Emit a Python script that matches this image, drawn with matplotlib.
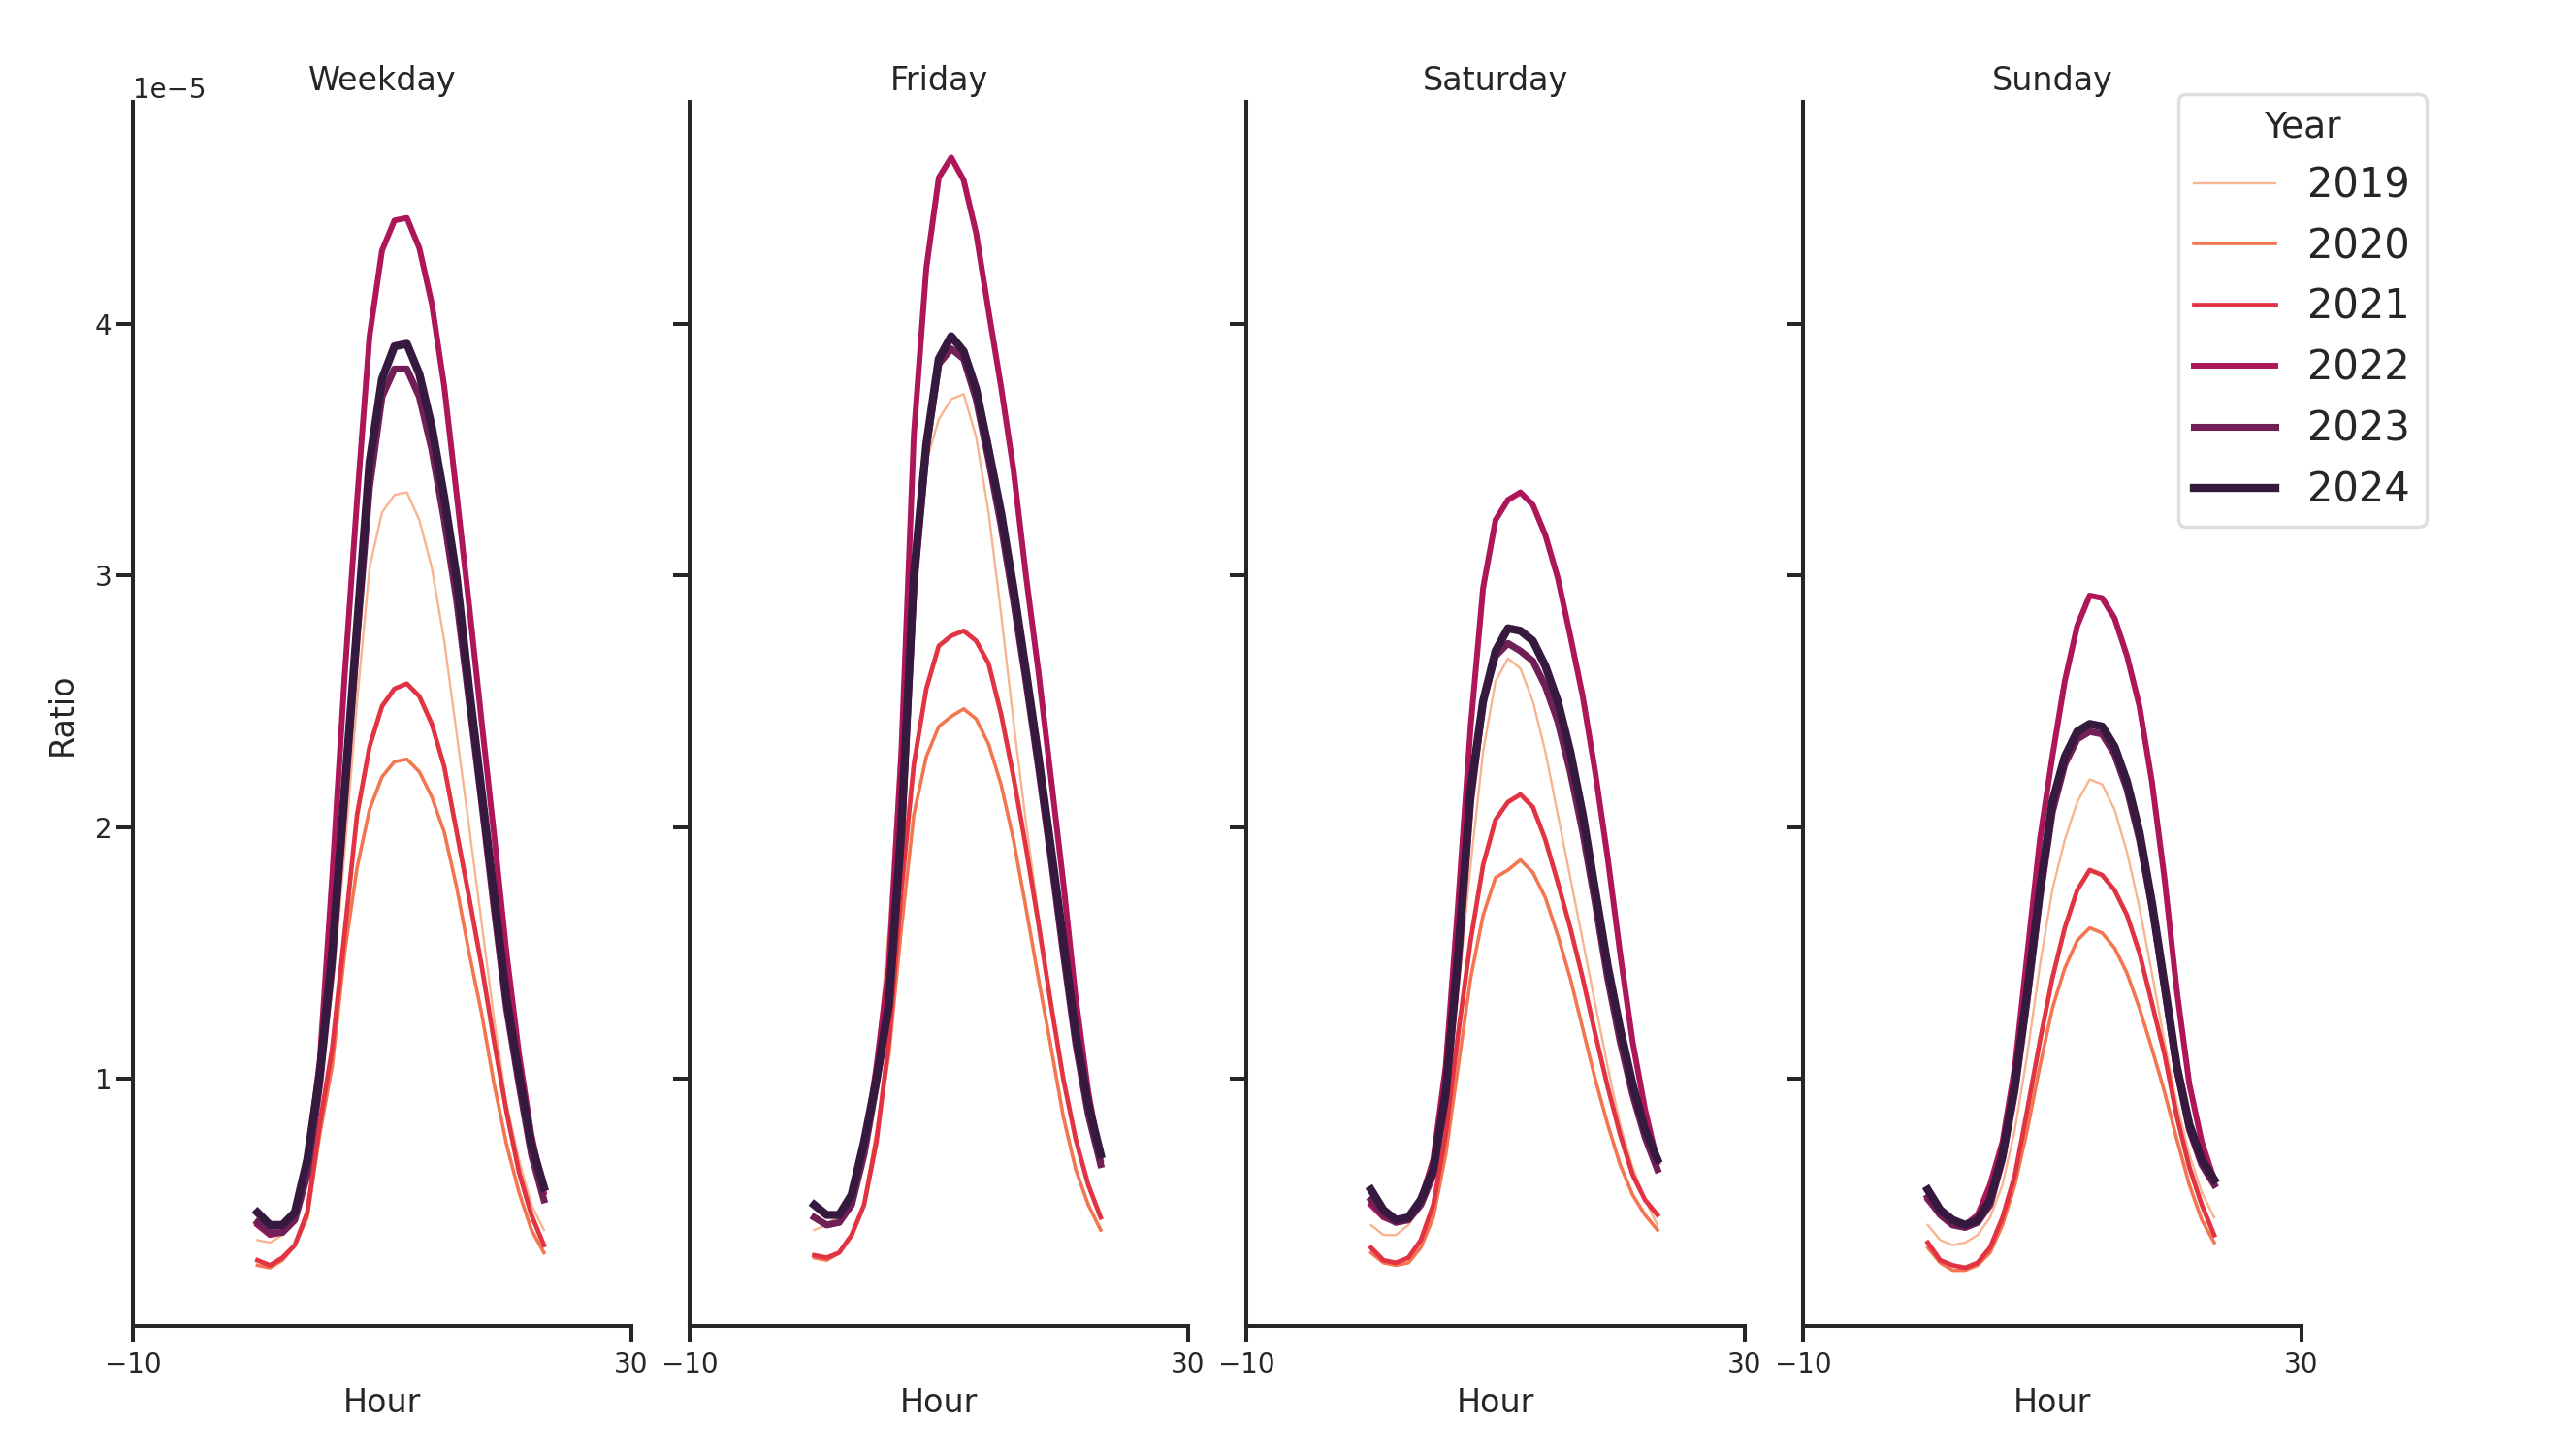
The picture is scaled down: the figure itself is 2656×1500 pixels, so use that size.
import numpy as np
import matplotlib
matplotlib.use("Agg")
import matplotlib.pyplot as plt

# hourly ratio values, in units of 1e-5
hours = list(range(24))
years = [2019, 2020, 2021, 2022, 2023, 2024]
days = ["Weekday", "Friday", "Saturday", "Sunday"]

weekday_2019 = [0.36, 0.35, 0.38, 0.50, 0.70, 0.98, 1.35, 1.90, 2.50, 3.03, 3.25, 3.32, 3.33, 3.22, 3.03, 2.74, 2.37, 2.00, 1.62, 1.24, 0.90, 0.68, 0.50, 0.40]
weekday_2020 = [0.26, 0.25, 0.28, 0.34, 0.45, 0.78, 1.05, 1.50, 1.84, 2.07, 2.20, 2.26, 2.27, 2.22, 2.12, 1.98, 1.76, 1.50, 1.26, 0.98, 0.74, 0.55, 0.40, 0.31]
weekday_2021 = [0.28, 0.26, 0.29, 0.34, 0.47, 0.82, 1.12, 1.58, 2.05, 2.32, 2.48, 2.55, 2.57, 2.52, 2.41, 2.24, 1.98, 1.72, 1.45, 1.15, 0.87, 0.63, 0.46, 0.34]
weekday_2022 = [0.42, 0.38, 0.39, 0.47, 0.68, 1.07, 1.80, 2.60, 3.30, 3.95, 4.29, 4.41, 4.42, 4.30, 4.08, 3.75, 3.32, 2.88, 2.42, 1.97, 1.50, 1.10, 0.78, 0.55]
weekday_2023 = [0.43, 0.39, 0.39, 0.44, 0.62, 0.98, 1.45, 2.10, 2.75, 3.35, 3.71, 3.82, 3.82, 3.71, 3.50, 3.22, 2.90, 2.50, 2.10, 1.68, 1.28, 0.98, 0.70, 0.52]
weekday_2024 = [0.47, 0.42, 0.42, 0.47, 0.68, 1.02, 1.50, 2.15, 2.80, 3.45, 3.78, 3.91, 3.92, 3.80, 3.59, 3.31, 2.99, 2.55, 2.14, 1.73, 1.32, 1.02, 0.74, 0.57]

friday_2019 = [0.40, 0.42, 0.46, 0.55, 0.75, 1.05, 1.60, 2.40, 3.05, 3.45, 3.62, 3.70, 3.72, 3.55, 3.25, 2.85, 2.42, 2.02, 1.65, 1.30, 1.00, 0.76, 0.57, 0.45]
friday_2020 = [0.29, 0.28, 0.31, 0.38, 0.50, 0.78, 1.10, 1.60, 2.05, 2.28, 2.40, 2.44, 2.47, 2.43, 2.33, 2.17, 1.95, 1.68, 1.40, 1.13, 0.85, 0.64, 0.50, 0.40]
friday_2021 = [0.30, 0.29, 0.31, 0.38, 0.50, 0.75, 1.15, 1.75, 2.25, 2.55, 2.72, 2.76, 2.78, 2.74, 2.65, 2.45, 2.20, 1.92, 1.62, 1.30, 1.00, 0.76, 0.58, 0.45]
friday_2022 = [0.45, 0.42, 0.43, 0.50, 0.72, 1.05, 1.45, 2.30, 3.56, 4.22, 4.58, 4.66, 4.57, 4.36, 4.05, 3.75, 3.42, 3.00, 2.62, 2.20, 1.78, 1.32, 0.95, 0.68]
friday_2023 = [0.45, 0.42, 0.43, 0.50, 0.70, 0.98, 1.28, 1.95, 2.95, 3.50, 3.84, 3.90, 3.86, 3.70, 3.46, 3.20, 2.90, 2.58, 2.24, 1.88, 1.50, 1.14, 0.86, 0.66]
friday_2024 = [0.50, 0.46, 0.46, 0.54, 0.75, 1.00, 1.30, 2.00, 3.00, 3.52, 3.86, 3.95, 3.89, 3.74, 3.50, 3.25, 2.95, 2.62, 2.28, 1.92, 1.55, 1.18, 0.90, 0.70]

saturday_2019 = [0.42, 0.38, 0.38, 0.42, 0.50, 0.62, 0.90, 1.35, 1.85, 2.30, 2.58, 2.67, 2.63, 2.50, 2.30, 2.05, 1.80, 1.55, 1.30, 1.05, 0.82, 0.65, 0.52, 0.42]
saturday_2020 = [0.31, 0.27, 0.26, 0.27, 0.33, 0.45, 0.70, 1.05, 1.40, 1.65, 1.80, 1.83, 1.87, 1.82, 1.72, 1.57, 1.40, 1.20, 1.00, 0.82, 0.66, 0.54, 0.46, 0.40]
saturday_2021 = [0.33, 0.28, 0.27, 0.29, 0.36, 0.50, 0.78, 1.18, 1.55, 1.85, 2.03, 2.10, 2.13, 2.08, 1.95, 1.78, 1.60, 1.40, 1.18, 0.97, 0.78, 0.62, 0.52, 0.46]
saturday_2022 = [0.50, 0.45, 0.43, 0.45, 0.52, 0.68, 1.05, 1.70, 2.40, 2.95, 3.22, 3.30, 3.33, 3.28, 3.16, 2.99, 2.76, 2.52, 2.22, 1.88, 1.50, 1.15, 0.88, 0.67]
saturday_2023 = [0.52, 0.46, 0.43, 0.44, 0.50, 0.62, 0.92, 1.45, 2.10, 2.50, 2.68, 2.73, 2.70, 2.66, 2.56, 2.42, 2.22, 1.98, 1.70, 1.40, 1.15, 0.94, 0.77, 0.64]
saturday_2024 = [0.56, 0.48, 0.44, 0.45, 0.52, 0.64, 0.95, 1.50, 2.15, 2.50, 2.70, 2.79, 2.78, 2.74, 2.64, 2.50, 2.30, 2.05, 1.75, 1.45, 1.20, 0.98, 0.80, 0.68]

sunday_2019 = [0.42, 0.36, 0.34, 0.35, 0.38, 0.45, 0.58, 0.80, 1.10, 1.45, 1.75, 1.95, 2.10, 2.19, 2.17, 2.07, 1.90, 1.68, 1.42, 1.15, 0.90, 0.70, 0.55, 0.45]
sunday_2020 = [0.33, 0.27, 0.24, 0.24, 0.26, 0.31, 0.42, 0.58, 0.80, 1.05, 1.28, 1.44, 1.55, 1.60, 1.58, 1.52, 1.42, 1.28, 1.12, 0.95, 0.76, 0.58, 0.44, 0.35]
sunday_2021 = [0.35, 0.28, 0.26, 0.25, 0.27, 0.33, 0.45, 0.62, 0.88, 1.15, 1.40, 1.60, 1.75, 1.83, 1.81, 1.75, 1.65, 1.50, 1.30, 1.10, 0.85, 0.65, 0.50, 0.38]
sunday_2022 = [0.52, 0.46, 0.42, 0.42, 0.46, 0.58, 0.75, 1.05, 1.50, 1.95, 2.28, 2.58, 2.80, 2.92, 2.91, 2.83, 2.68, 2.48, 2.18, 1.80, 1.35, 0.98, 0.75, 0.60]
sunday_2023 = [0.53, 0.46, 0.42, 0.41, 0.43, 0.50, 0.68, 0.95, 1.32, 1.72, 2.06, 2.25, 2.35, 2.38, 2.37, 2.29, 2.15, 1.95, 1.68, 1.36, 1.04, 0.80, 0.66, 0.58]
sunday_2024 = [0.56, 0.48, 0.44, 0.42, 0.44, 0.52, 0.70, 0.98, 1.35, 1.75, 2.10, 2.28, 2.38, 2.41, 2.40, 2.32, 2.18, 1.98, 1.70, 1.38, 1.05, 0.82, 0.68, 0.60]

series = {
    "Weekday": [weekday_2019, weekday_2020, weekday_2021, weekday_2022, weekday_2023, weekday_2024],
    "Friday": [friday_2019, friday_2020, friday_2021, friday_2022, friday_2023, friday_2024],
    "Saturday": [saturday_2019, saturday_2020, saturday_2021, saturday_2022, saturday_2023, saturday_2024],
    "Sunday": [sunday_2019, sunday_2020, sunday_2021, sunday_2022, sunday_2023, sunday_2024],
}

# rocket palette, light to dark, and line width growing with the year
colors = ["#f6b48f", "#f37651", "#e13342", "#ad1759", "#701f57", "#35193e"]
widths = [1.7, 2.6, 3.4, 4.3, 5.1, 6.0]

plt.rcParams["font.family"] = "DejaVu Sans"
plt.rcParams["text.color"] = "#262626"
plt.rcParams["axes.labelcolor"] = "#262626"
plt.rcParams["xtick.color"] = "#262626"
plt.rcParams["ytick.color"] = "#262626"

fig, axes = plt.subplots(1, 4, figsize=(26.56, 15), dpi=100, sharey=True)
fig.subplots_adjust(left=0.0516, right=0.8934, bottom=0.0887, top=0.930, wspace=0.1177)

for ax, day in zip(axes, days):
    for yr, vals, c, lw in zip(years, series[day], colors, widths):
        ax.plot(hours, np.array(vals) * 1e-5, color=c, lw=lw, label=str(yr))
    ax.set_title(day, fontsize=24, pad=9)
    ax.set_xlim(-10, 30)
    ax.set_xticks([-10, 30])
    ax.set_xlabel("Hour", fontsize=24, labelpad=6)
    for side in ["top", "right"]:
        ax.spines[side].set_visible(False)
    for side in ["left", "bottom"]:
        ax.spines[side].set_linewidth(2.9)
        ax.spines[side].set_color("#262626")
    ax.tick_params(axis="both", labelsize=20, length=12, width=2.9)
    ax.tick_params(axis="x", pad=7)

axes[0].set_yticks([1e-5, 2e-5, 3e-5, 4e-5])
axes[0].set_ylabel("Ratio", fontsize=24, labelpad=12)
axes[0].yaxis.get_offset_text().set_fontsize(20)

handles, labels = axes[0].get_legend_handles_labels()
leg = fig.legend(handles, labels, title="Year", loc="upper right",
                 bbox_to_anchor=(0.9419, 0.9355), borderaxespad=0,
                 fontsize=30, title_fontsize=27, frameon=True)
leg.get_frame().set_edgecolor("#d6d6d6")
leg.get_frame().set_linewidth(2.5)

fig.savefig("out.png", dpi=100)
